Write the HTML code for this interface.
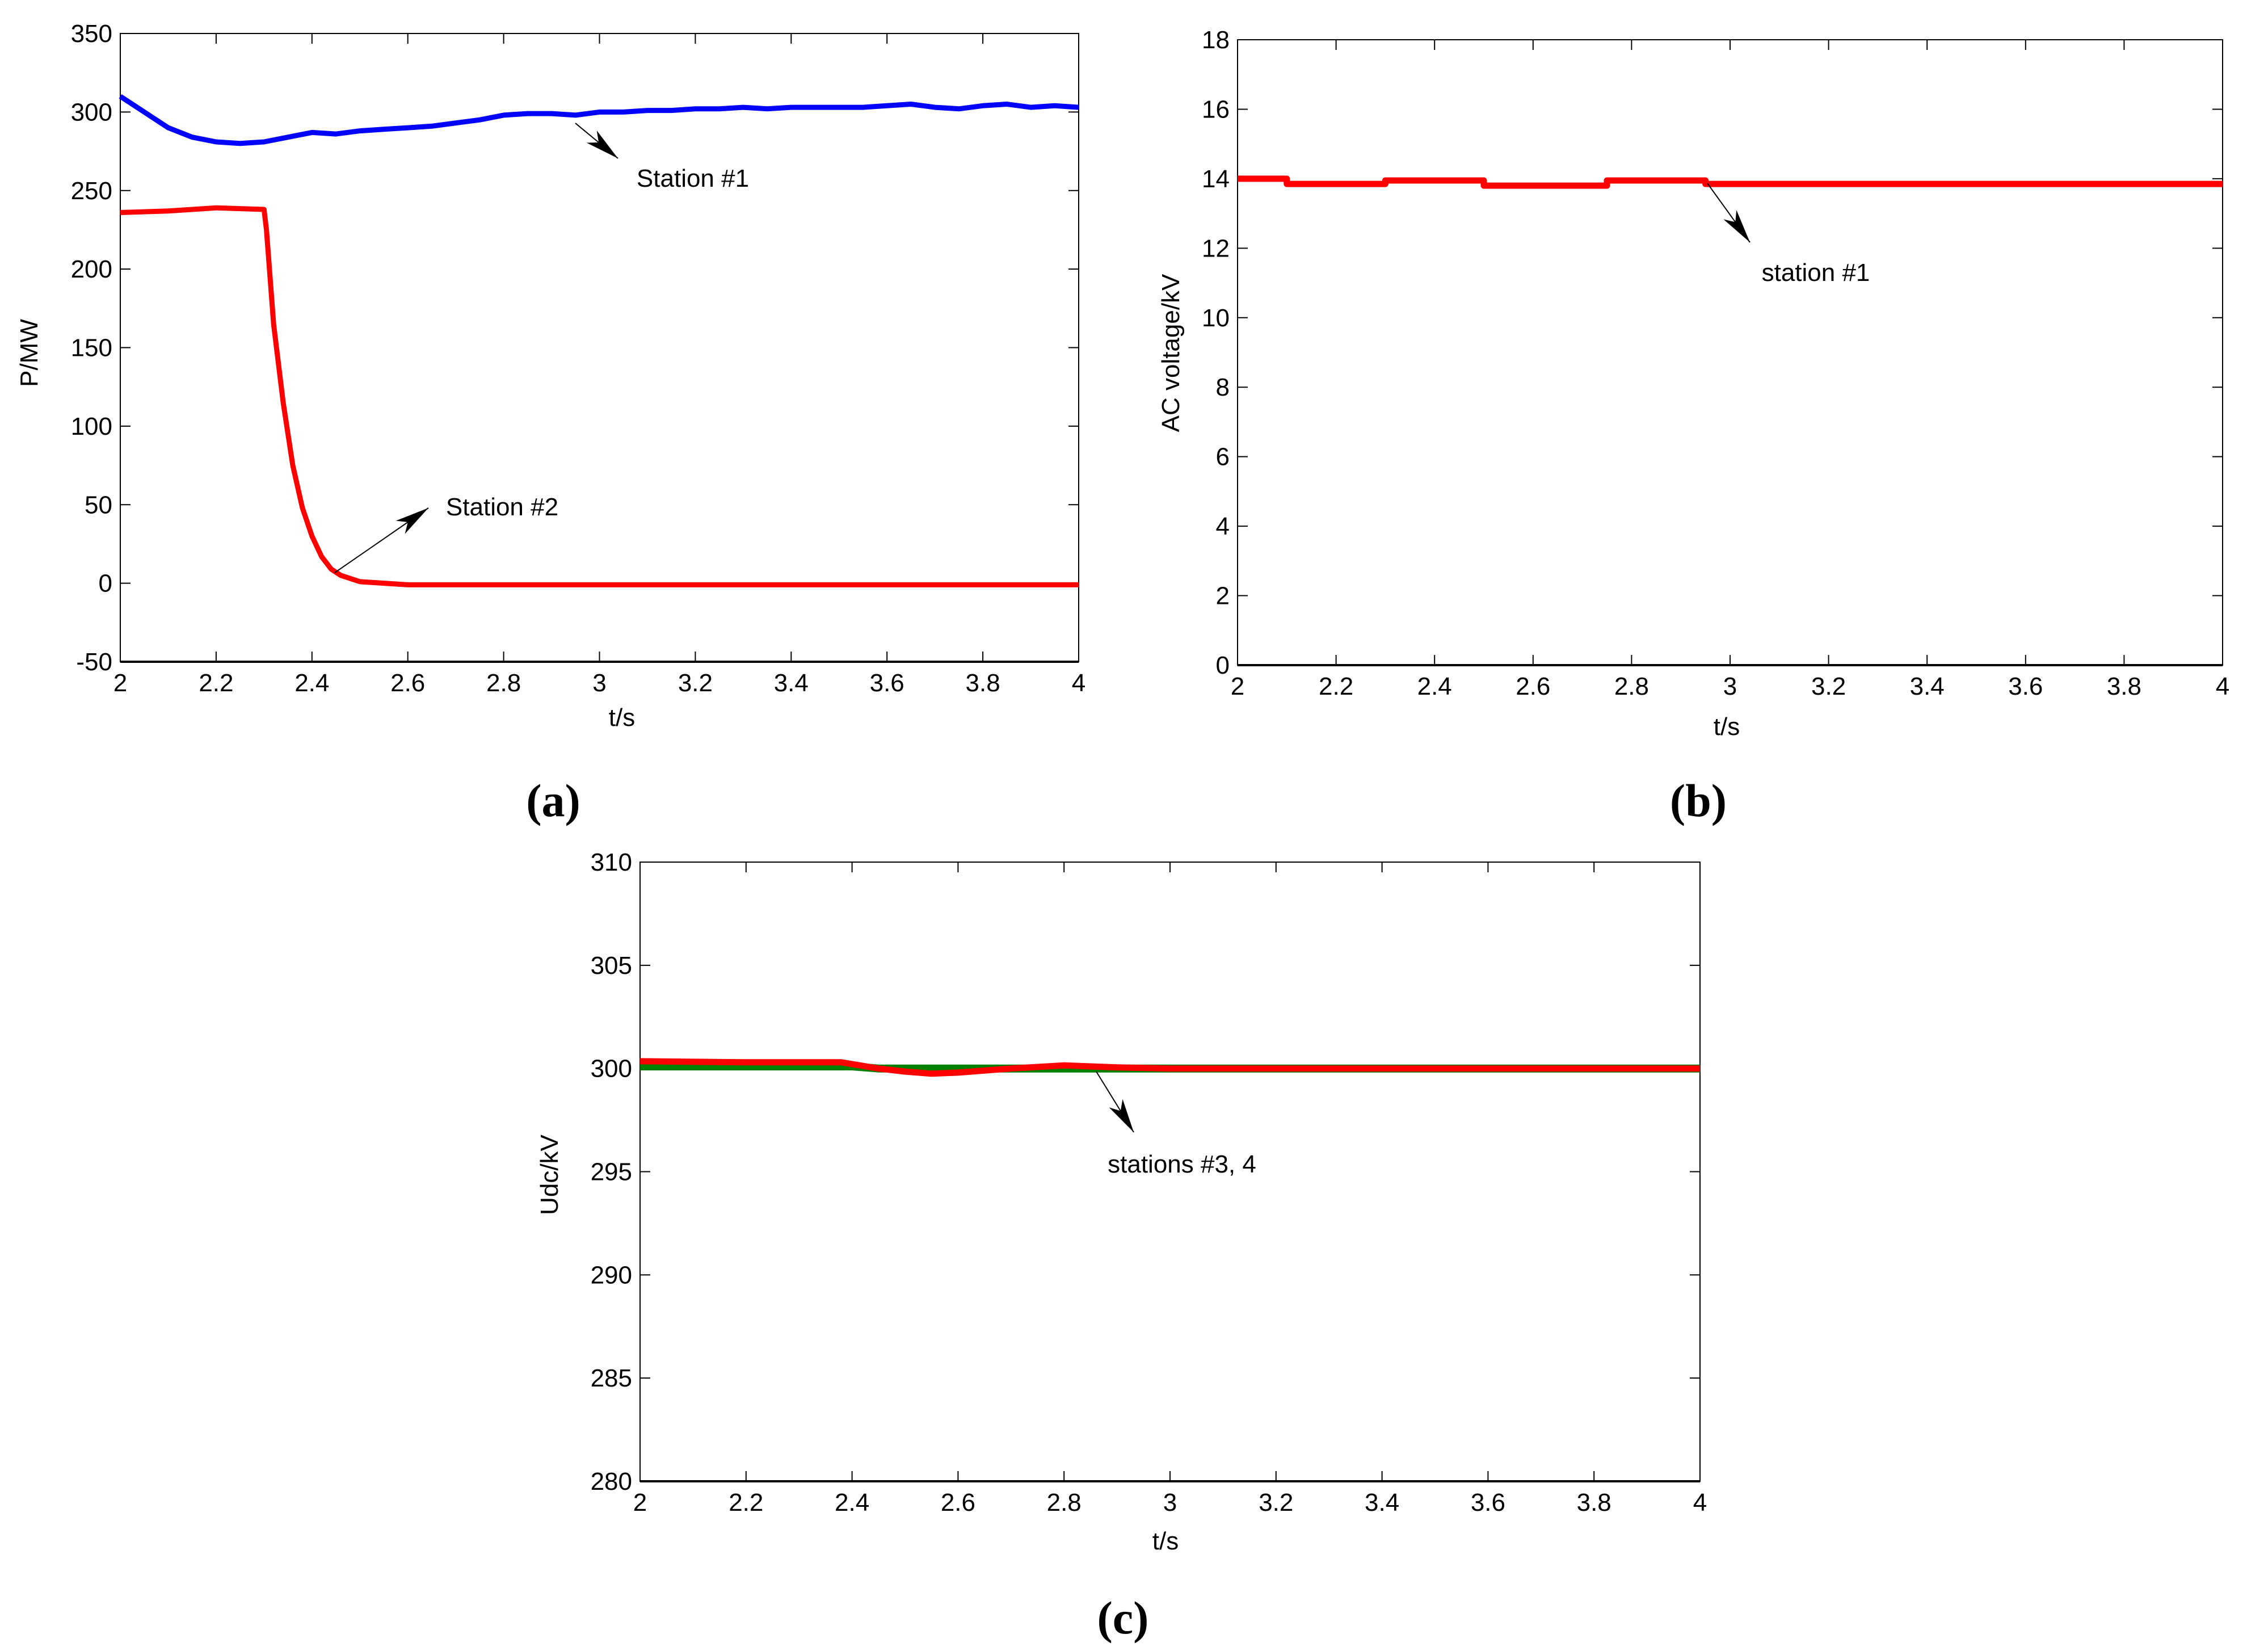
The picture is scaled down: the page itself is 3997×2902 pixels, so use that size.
<!DOCTYPE html>
<html><head><meta charset="utf-8"><style>
html,body{margin:0;padding:0;background:#fff;}
svg{display:block;}
text{font-family:"Liberation Sans",Arial,sans-serif;fill:#000;}
.tick{font-size:44px;}
.lab{font-size:44px;}
.cap{font-family:"Liberation Serif",serif;font-weight:bold;font-size:82px;}
</style></head><body>
<svg id="fig" width="3997" height="2902" viewBox="0 0 3997 2902" xmlns="http://www.w3.org/2000/svg">
<defs><marker id="ah" viewBox="0 0 30 14" refX="30" refY="7" markerWidth="60" markerHeight="28" markerUnits="userSpaceOnUse" orient="auto"><path d="M0,0 L30,7 L0,14 L8,7 z" fill="#000"/></marker></defs>
</svg>
<script>
// ---- data ----
const xTicks = [2,2.2,2.4,2.6,2.8,3,3.2,3.4,3.6,3.8,4];
const xTickLabels = ["2","2.2","2.4","2.6","2.8","3","3.2","3.4","3.6","3.8","4"];
const aYTicks = [-50,0,50,100,150,200,250,300,350];
const bYTicks = [0,2,4,6,8,10,12,14,16,18];
const cYTicks = [280,285,290,295,300,305,310];
const s1T = [2,2.05,2.1,2.15,2.2,2.25,2.3,2.35,2.4,2.45,2.5,2.55,2.6,2.65,2.7,2.75,2.8,2.85,2.9,2.95,3,3.05,3.1,3.15,3.2,3.25,3.3,3.35,3.4,3.45,3.5,3.55,3.6,3.65,3.7,3.75,3.8,3.85,3.9,3.95,4];
const s1P = [310,300,290,284,281,280,281,284,287,286,288,289,290,291,293,295,298,299,299,298,300,300,301,301,302,302,303,302,303,303,303,303,304,305,303,302,304,305,303,304,303];
const s2T = [2,2.1,2.2,2.3,2.305,2.32,2.34,2.36,2.38,2.4,2.42,2.44,2.46,2.5,2.55,2.6,2.7,3,3.5,4];
const s2P = [236,237,239,238,225,165,115,75,48,30,17,9,5,1,0,-1,-1,-1,-1,-1];
const vT = [2,2.1,2.1,2.3,2.3,2.5,2.5,2.75,2.75,2.95,2.95,4];
const vV = [14.0,14.0,13.85,13.85,13.95,13.95,13.8,13.8,13.95,13.95,13.85,13.85];
const g34T = [2,2.4,2.45,4];
const g34V = [300.1,300.1,300.0,300.0];
const r34T = [2,2.2,2.38,2.45,2.5,2.55,2.6,2.7,2.8,2.9,3,3.5,4];
const r34V = [300.35,300.3,300.3,300.0,299.85,299.75,299.8,300.0,300.15,300.05,300.0,300.0,300.0];

const NS="http://www.w3.org/2000/svg";
const svg=document.getElementById('fig');
function el(tag,attrs,parent){const e=document.createElementNS(NS,tag);for(const k in attrs)e.setAttribute(k,attrs[k]);(parent||svg).appendChild(e);return e;}

function panel(name,L,R,T,B,ymin,ymax,yTicks){
  const g=el('g',{});
  
  
  const sx=v=>L+(v-2)/(4-2)*(R-L);
  const sy=v=>B-(v-ymin)/(ymax-ymin)*(B-T);
  const box=el('rect',{x:L,y:T,width:R-L,height:B-T,fill:'none',stroke:'#000','stroke-width':2},g);
  
  
  el('line',{x1:L,y1:B,x2:R,y2:B,stroke:'#000','stroke-width':4},g);
  el('line',{x1:L,y1:T,x2:L,y2:B,stroke:'#000','stroke-width':2},g);
  xTicks.forEach((v,i)=>{
    const x=sx(v);
    el('line',{x1:x,y1:B,x2:x,y2:B-18,stroke:'#000','stroke-width':2},g);
    el('line',{x1:x,y1:T,x2:x,y2:T+18,stroke:'#000','stroke-width':2},g);
    const t=el('text',{x:x,y:B+52,'text-anchor':'middle',class:'tick'},g);
    t.textContent=xTickLabels[i];
    
    
  });
  yTicks.forEach(v=>{
    const y=sy(v);
    el('line',{x1:L,y1:y,x2:L+18,y2:y,stroke:'#000','stroke-width':2},g);
    el('line',{x1:R,y1:y,x2:R-18,y2:y,stroke:'#000','stroke-width':2},g);
    const t=el('text',{x:L-14,y:y+15,'text-anchor':'end',class:'tick'},g);
    t.textContent=String(v);
    
    
  });
  return {g,sx,sy};
}
function line(p,ts,vs,color,w,name){
  const d=ts.map((t,i)=>(i?'L':'M')+p.sx(t).toFixed(1)+','+p.sy(vs[i]).toFixed(1)).join(' ');
  const e=el('path',{d:d,fill:'none',stroke:color,'stroke-width':w,'stroke-linejoin':'round'},p.g);
  
  
}
function txt(x,y,s,cls,name,rot){
  const a={x:x,y:y,'text-anchor':'middle',class:cls};
  if(rot)a.transform='rotate(-90 '+x+' '+y+')';
  const t=el('text',a);t.textContent=s;
  
  
}
function arrow(x1,y1,x2,y2,name){
  const e=el('line',{x1,y1,x2,y2,stroke:'#000','stroke-width':2,'marker-end':'url(#ah)'});
  
  
}

// panel a
const pa=panel('panel-a',212,1901,59,1166,-50,350,aYTicks);
line(pa,s1T,s1P,'#0000ff',9,'station-1-power-line');
line(pa,s2T,s2P,'#ff0000',9,'station-2-power-line');
txt(1096,1279,'t/s','lab','x-axis-title-a');
txt(66,622,'P/MW','lab','y-axis-title-a',true);
txt(975,1438,'(a)','cap','caption-a');
txt(1221,329,'Station #1','lab','annotation-station-1');
arrow(1014,217,1089,279,'arrow-station-1');
txt(885,908,'Station #2','lab','annotation-station-2');
arrow(590,1009,755,895,'arrow-station-2');

// panel b
const pb=panel('panel-b',2181,3917,70,1172,0,18,bYTicks);
line(pb,vT,vV,'#ff0000',11,'station-1-ac-voltage-line');
txt(3043,1295,'t/s','lab','x-axis-title-b');
txt(2078,622,'AC voltage/kV','lab','y-axis-title-b',true);
txt(2993,1438,'(b)','cap','caption-b');
txt(3200,495,'station #1','lab','annotation-b-station-1');
arrow(3009,323,3084,427,'arrow-b-station-1');

// panel c
const pc=panel('panel-c',1128,2996,1519,2610,280,310,cYTicks);
line(pc,g34T,g34V,'#008000',14,'station-4-udc-line');
line(pc,r34T,r34V,'#ff0000',11,'station-3-udc-line');
txt(2054,2730,'t/s','lab','x-axis-title-c');
txt(983,2070,'Udc/kV','lab','y-axis-title-c',true);
txt(1979,2878,'(c)','cap','caption-c');
txt(2083,2066,'stations #3, 4','lab','annotation-stations-3-4');
arrow(1932,1888,1998,1995,'arrow-stations-3-4');
</script>
</body></html>
